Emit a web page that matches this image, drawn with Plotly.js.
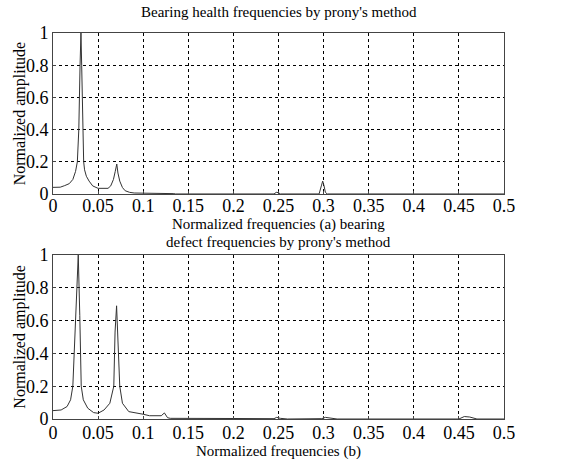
<!DOCTYPE html>
<html>
<head>
<meta charset="utf-8">
<script src="https://cdn.plot.ly/plotly-3.0.1.min.js"></script>
<style>html,body{margin:0;padding:0;background:#fff;}#chart{width:577px;height:460px;}</style>
</head>
<body>
<div id="chart"></div>
<script>
// Panel (a): bearing health frequencies
const freqA = [0, 0.008, 0.013, 0.018, 0.022, 0.025, 0.027, 0.0286, 0.030, 0.031, 0.0318, 0.033, 0.034, 0.035, 0.037, 0.040, 0.044, 0.050, 0.056, 0.061, 0.064, 0.067, 0.069, 0.0707, 0.072, 0.074, 0.077, 0.080, 0.085, 0.09, 0.1, 0.11, 0.12, 0.13, 0.134, 0.136, 0.245, 0.2475, 0.25, 0.252, 0.295, 0.2975, 0.299, 0.3005, 0.302, 0.304, 0.442, 0.445, 0.448, 0.5];
const ampA  = [0.041, 0.042, 0.052, 0.064, 0.09, 0.14, 0.2, 0.4, 0.8, 1.0, 0.8, 0.4, 0.2, 0.15, 0.11, 0.08, 0.05, 0.035, 0.033, 0.035, 0.05, 0.09, 0.14, 0.186, 0.13, 0.08, 0.04, 0.02, 0.01, 0.006, 0.005, 0.005, 0.004, 0.004, 0.002, 0, 0, 0.01, 0.008, 0, 0, 0.05, 0.08, 0.05, 0.01, 0, 0, 0.004, 0, 0];

// Panel (b): bearing defect frequencies
const freqB = [0, 0.009, 0.0156, 0.0195, 0.022, 0.0244, 0.026, 0.028, 0.0297, 0.0313, 0.0336, 0.0385, 0.045, 0.05, 0.0566, 0.063, 0.0674, 0.0688, 0.0705, 0.072, 0.074, 0.077, 0.084, 0.1, 0.107, 0.12, 0.1235, 0.127, 0.13, 0.2, 0.245, 0.248, 0.252, 0.26, 0.298, 0.302, 0.308, 0.315, 0.45, 0.456, 0.462, 0.47, 0.5];
const ampB  = [0.051, 0.055, 0.076, 0.117, 0.2, 0.53, 0.79, 1.0, 0.63, 0.2, 0.117, 0.066, 0.039, 0.035, 0.055, 0.096, 0.2, 0.53, 0.69, 0.42, 0.2, 0.096, 0.045, 0.029, 0.02, 0.02, 0.037, 0.008, 0.004, 0.003, 0.002, 0.01, 0.004, 0, 0.002, 0.01, 0.004, 0, 0, 0.015, 0.012, 0, 0];

const xTickVals = [0, 0.05, 0.1, 0.15, 0.2, 0.25, 0.3, 0.35, 0.4, 0.45, 0.5];
const xTickText = ['0', '0.05', '0.1', '0.15', '0.2', '0.25', '0.3', '0.35', '0.4', '0.45', '0.5'];
const yTickVals = [0, 0.2, 0.4, 0.6, 0.8, 1];
const yTickText = ['0', '0.2', '0.4', '0.6', '0.8', '1'];

const titleTop = "Bearing health frequencies by prony's method";
const xLabelTop = "Normalized frequencies (a) bearing";
const titleBottom = "defect frequencies by prony's method";
const xLabelBottom = "Normalized frequencies (b)";
const yLabel = "Normalized amplitude";

const FONT = 'Liberation Serif, Times New Roman, serif';

const lineStyle = {color: '#333', width: 1};
const traces = [
  {x: freqA, y: ampA, type: 'scatter', mode: 'lines', line: lineStyle, xaxis: 'x', yaxis: 'y', hoverinfo: 'skip'},
  {x: freqB, y: ampB, type: 'scatter', mode: 'lines', line: lineStyle, xaxis: 'x2', yaxis: 'y2', hoverinfo: 'skip'}
];

const tickFont = {family: FONT, size: 18, color: '#000'};

function xax(anchor, standoff) {
  return {
    anchor: anchor, range: [0, 0.5], tickmode: 'array', tickvals: xTickVals, ticktext: xTickText,
    showgrid: true, gridcolor: '#000', griddash: 'dot', gridwidth: 1,
    showline: true, mirror: true, linecolor: '#444', linewidth: 1,
    ticks: 'inside', ticklen: 3, tickcolor: '#444',
    zeroline: false, tickfont: tickFont, ticklabelstandoff: standoff
  };
}
function yax(anchor, domain) {
  return {
    anchor: anchor, domain: domain, range: [0, 1], tickmode: 'array', tickvals: yTickVals, ticktext: yTickText,
    showgrid: true, gridcolor: '#000', griddash: 'dot', gridwidth: 1,
    showline: true, mirror: true, linecolor: '#444', linewidth: 1,
    ticks: 'inside', ticklen: 3, tickcolor: '#444',
    zeroline: false, tickfont: tickFont
  };
}

const ann = (text, x, y, extra) => Object.assign({
  text: text, xref: 'paper', yref: 'paper', x: x, y: y, showarrow: false,
  xanchor: 'center', yanchor: 'middle', font: {family: FONT, size: 15, color: '#000'}
}, extra || {});

const layout = {
  width: 577, height: 460,
  margin: {l: 53, r: 73, t: 33, b: 41},
  paper_bgcolor: '#fff', plot_bgcolor: '#fff',
  showlegend: false,
  font: {family: FONT},
  xaxis: xax('y', -5),
  yaxis: yax('x', [0.583, 1]),
  xaxis2: xax('y2', -3),
  yaxis2: yax('x2', [0, 0.425]),
  annotations: [
    ann(titleTop, 0.5, 1.054),
    ann(xLabelTop, 0.5, 0.503),
    ann(titleBottom, 0.5, 0.459),
    ann(xLabelBottom, 0.5, -0.083),
    ann(yLabel, -0.074, 0.791, {textangle: -90, font: {family: FONT, size: 16, color: '#000'}}),
    ann(yLabel, -0.074, 0.2124, {textangle: -90, font: {family: FONT, size: 16, color: '#000'}})
  ]
};

Plotly.newPlot('chart', traces, layout, {staticPlot: true, displayModeBar: false});
</script>
</body>
</html>
